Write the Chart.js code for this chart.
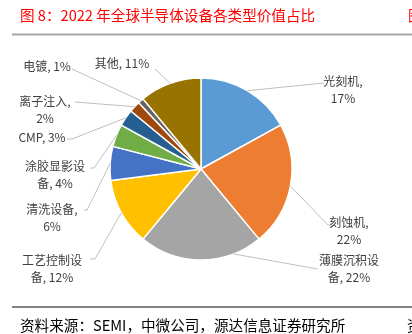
<!DOCTYPE html>
<html>
<head>
<meta charset="utf-8">
<script src="https://cdn.jsdelivr.net/npm/chart.js@4.4.1/dist/chart.umd.min.js"></script>
<style>
  html, body { margin: 0; padding: 0; background: #fff; }
  #wrap { position: relative; width: 412px; height: 334px; }
</style>
</head>
<body>
<div id="wrap"><canvas id="pie"></canvas></div>
<script>
// 数据：2022 年全球半导体设备各类型价值占比（%）
const categories = ["光刻机", "刻蚀机", "薄膜沉积设备", "工艺控制设备", "清洗设备",
  "涂胶显影设备", "CMP", "离子注入", "电镀", "其他"];
const shares = [17, 22, 22, 12, 6, 4, 3, 2, 1, 11];
const sliceColors = ["#5B9BD5", "#ED7D31", "#A5A5A5", "#FFC000", "#4472C4",
  "#70AD47", "#255E91", "#9E480E", "#636363", "#997300"];

const titleText = "图 8：2022 年全球半导体设备各类型价值占比";
const sourceText = "资料来源：SEMI，中微公司，源达信息证券研究所";

// 标签排版：换行位置、文字中心、引导线折点（angle 为可选的锚点角度，度）
const labelLayout = [
  { brk: 4, x: 343, y: 81, path: [[324, 83]] },
  { brk: 4, x: 349, y: 222, path: [[328, 225], [332, 225]] },
  { brk: 5, x: 349, y: 260, path: [[318, 269]], angle: 159 },
  { brk: 5, x: 52, y: 260, path: [[95, 259], [90, 259]] },
  { brk: 5, x: 52, y: 209, path: [[87, 210], [84, 210]] },
  { brk: 5, x: 55, y: 166, path: [[94, 168], [90, 168]] },
  { brk: null, x: 42, y: 137, path: [[72, 139], [67, 139]] },
  { brk: 5, x: 45, y: 101, path: [[75, 102]] },
  { brk: null, x: 47, y: 66, path: [[72, 69]] },
  { brk: null, x: 122, y: 63, path: [[155, 69]] },
];

const CJK = '"Noto Sans CJK SC", "Noto Sans", sans-serif';

const labelPlugin = {
  id: "pieLabels",
  afterDatasetsDraw(chart) {
    const ctx = chart.ctx;
    const arcs = chart.getDatasetMeta(0).data;
    ctx.save();

    // 引导线
    ctx.strokeStyle = "#BFBFBF";
    ctx.lineWidth = 1;
    arcs.forEach((arc, i) => {
      const lay = labelLayout[i];
      const p = arc.getProps(["x", "y", "startAngle", "endAngle", "outerRadius"], true);
      let a = (p.startAngle + p.endAngle) / 2;
      if (lay.angle != null) a = (lay.angle - 90) * Math.PI / 180;
      const ax = p.x + Math.cos(a) * p.outerRadius;
      const ay = p.y + Math.sin(a) * p.outerRadius;
      ctx.beginPath();
      ctx.moveTo(ax, ay);
      lay.path.forEach(([x, y]) => ctx.lineTo(x, y));
      ctx.stroke();
    });

    // 标签文字
    ctx.fillStyle = "#404040";
    ctx.font = "12px " + CJK;
    ctx.textAlign = "center";
    ctx.textBaseline = "middle";
    categories.forEach((name, i) => {
      const lay = labelLayout[i];
      const full = name + ", " + shares[i] + "%";
      if (lay.brk == null) {
        ctx.fillText(full, lay.x, lay.y);
      } else {
        ctx.fillText(full.slice(0, lay.brk).trim(), lay.x, lay.y);
        ctx.fillText(full.slice(lay.brk).trim(), lay.x, lay.y + 17);
      }
    });

    // 标题与来源
    ctx.textAlign = "left";
    ctx.fillStyle = "#FF0000";
    ctx.font = "14.6px " + CJK;
    ctx.fillText(titleText, 20, 15);
    ctx.fillText("图", 408, 15);

    ctx.strokeStyle = "#A6A6A6";
    ctx.lineWidth = 2;
    ctx.beginPath();
    ctx.moveTo(12, 34.5);
    ctx.lineTo(412, 34.5);
    ctx.stroke();

    ctx.strokeStyle = "#595959";
    ctx.lineWidth = 1.5;
    ctx.beginPath();
    ctx.moveTo(12, 307);
    ctx.lineTo(412, 307);
    ctx.stroke();

    ctx.fillStyle = "#000000";
    ctx.font = "14.6px " + CJK;
    ctx.fillText(sourceText, 20, 325);
    ctx.fillText("资", 407, 325);

    ctx.restore();
  },
};

new Chart(document.getElementById("pie"), {
  type: "pie",
  data: {
    labels: categories,
    datasets: [{
      data: shares,
      backgroundColor: sliceColors,
      borderColor: "#FFFFFF",
      borderWidth: 1.5,
      radius: 91,
      hoverOffset: 0,
    }],
  },
  options: {
    responsive: true,
    maintainAspectRatio: false,
    animation: false,
    layout: { padding: { left: 100, right: 110, top: 74, bottom: 70 } },
    plugins: {
      legend: { display: false },
      tooltip: { enabled: false },
    },
    events: [],
  },
  plugins: [labelPlugin],
});
</script>
</body>
</html>
